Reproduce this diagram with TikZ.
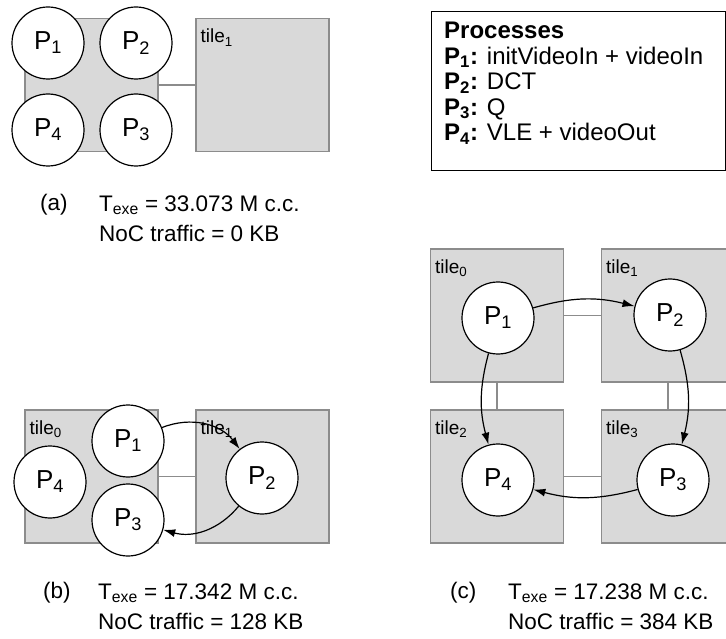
\documentclass[tikz,border=0pt]{standalone}
\usepackage{fontspec}
\setmainfont{Liberation Sans}
\usepackage{xcolor}
\usetikzlibrary{arrows.meta}
\definecolor{tilefill}{gray}{0.85}
\definecolor{tileline}{gray}{0.55}

\begin{document}
\begin{tikzpicture}[x=1pt,y=-1pt,
  tile/.style={draw=tileline,fill=tilefill,line width=1.2pt,minimum width=133pt,minimum height=133pt,inner sep=0pt},
  tilename/.style={anchor=north west,inner xsep=5pt,inner ysep=11pt,font=\fontsize{19}{19}\selectfont},
  link/.style={draw=tileline,line width=1.2pt},
  proc/.style={circle,draw,fill=white,line width=1.2pt,minimum size=72pt,inner sep=0pt,font=\fontsize{26}{26}\selectfont},
  flow/.style={-{Latex[length=12pt,width=8pt]},line width=1.2pt},
  caption/.style={anchor=west,inner sep=0pt,font=\fontsize{22.5}{22.5}\selectfont}]
\clip (0,0) rectangle (726,639);

\node[tile] (a0) at (91.5,85) {};
\node[tile] (a1) at (262.5,85) {};
\node[tilename] (a1name) at (a1.north west) {tile\textsubscript{1}};
\draw[link] (a0) -- (a1);
\node[proc] (ap1) at (48,43) {P\textsubscript{1}};
\node[proc] (ap2) at (136,43) {P\textsubscript{2}};
\node[proc] (ap4) at (48,130) {P\textsubscript{4}};
\node[proc] (ap3) at (136,130) {P\textsubscript{3}};
\node[caption] (acap) at (40,205) {(a)};
\node[caption] (atexe) at (99,205) {T\textsubscript{exe} = 33.073 M c.c.};
\node[caption] (anoc) at (99,233) {NoC traffic = 0 KB};

\node[draw,line width=1.2pt,anchor=north west,minimum width=294pt,minimum height=159pt] (legbox) at (431,11) {};
\node[anchor=north west,align=left,inner sep=0pt,font=\fontsize{24}{25.5}\selectfont] (legtext) at (444,22) {\textbf{Processes}\\
\textbf{P\textsubscript{1}:} initVideoIn + videoIn\\
\textbf{P\textsubscript{2}:} DCT\\
\textbf{P\textsubscript{3}:} Q\\
\textbf{P\textsubscript{4}:} VLE + videoOut};

\node[tile] (b0) at (91.5,476.5) {};
\node[tile] (b1) at (262.5,476.5) {};
\node[tilename] (b0name) at (b0.north west) {tile\textsubscript{0}};
\node[tilename] (b1name) at (b1.north west) {tile\textsubscript{1}};
\draw[link] (b0) -- (b1);
\node[proc] (bp1) at (128,441) {P\textsubscript{1}};
\node[proc] (bp4) at (50,482) {P\textsubscript{4}};
\node[proc] (bp3) at (128,520) {P\textsubscript{3}};
\node[proc] (bp2) at (262,478) {P\textsubscript{2}};
\draw[flow] (bp1) to[bend left=37] (bp2);
\draw[flow] (bp2) to[bend left=33] (bp3);
\node[caption] (bcap) at (43,593) {(b)};
\node[caption] (btexe) at (98,593) {T\textsubscript{exe} = 17.342 M c.c.};
\node[caption] (bnoc) at (98,621) {NoC traffic = 128 KB};

\node[tile] (c0) at (497,315.5) {};
\node[tile] (c1) at (668,315.5) {};
\node[tile] (c2) at (497,476.5) {};
\node[tile] (c3) at (668,476.5) {};
\node[tilename] (c0name) at (c0.north west) {tile\textsubscript{0}};
\node[tilename] (c1name) at (c1.north west) {tile\textsubscript{1}};
\node[tilename] (c2name) at (c2.north west) {tile\textsubscript{2}};
\node[tilename] (c3name) at (c3.north west) {tile\textsubscript{3}};
\draw[link] (c0) -- (c1);
\draw[link] (c2) -- (c3);
\draw[link] (c0) -- (c2);
\draw[link] (c1) -- (c3);
\node[proc] (cp1) at (498,318) {P\textsubscript{1}};
\node[proc] (cp2) at (670,315) {P\textsubscript{2}};
\node[proc] (cp3) at (673,480) {P\textsubscript{3}};
\node[proc] (cp4) at (498,480) {P\textsubscript{4}};
\draw[flow] (cp1) to[bend left=15] (cp2);
\draw[flow] (cp2) to[bend left=15] (cp3);
\draw[flow] (cp3) to[bend left=15] (cp4);
\draw[flow] (cp1) to[bend right=15] (cp4);
\node[caption] (ccap) at (450,593) {(c)};
\node[caption] (ctexe) at (508,593) {T\textsubscript{exe} = 17.238 M c.c.};
\node[caption] (cnoc) at (508,621) {NoC traffic = 384 KB};
\end{tikzpicture}
\end{document}
